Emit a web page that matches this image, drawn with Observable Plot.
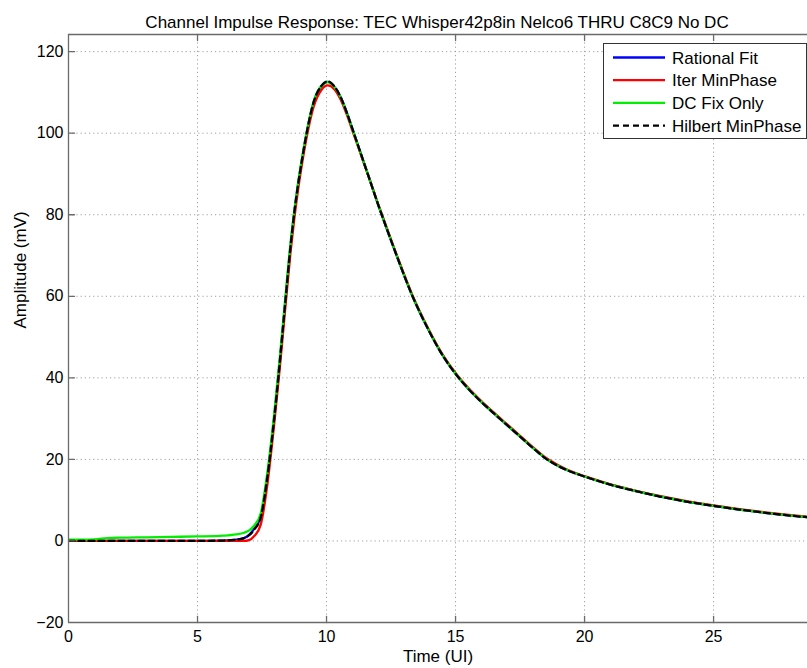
<!DOCTYPE html>
<html><head><meta charset="utf-8">
<script src="https://cdn.jsdelivr.net/npm/d3@7"></script>
<script src="https://cdn.jsdelivr.net/npm/@observablehq/plot@0.6"></script>
<style>
body{margin:0;background:#fff;}
#wrap{position:relative;width:807px;height:668px;overflow:hidden;font-family:"Liberation Sans",Arial,sans-serif;}
#legend{position:absolute;left:603px;top:43px;}
</style></head><body><div id="wrap"><div id="legend"></div></div>
<script>
const title = "Channel Impulse Response: TEC Whisper42p8in Nelco6 THRU C8C9 No DC";
const xLabel = "Time (UI)";
const yLabel = "Amplitude (mV)";
const xTicks = [0, 5, 10, 15, 20, 25];
const yTicks = [-20, 0, 20, 40, 60, 80, 100, 120];
const seriesNames = ["Rational Fit", "Iter MinPhase", "DC Fix Only", "Hilbert MinPhase"];
const seriesColors = ["#0000ff", "#ff0000", "#00ee00", "#000000"];
const seriesDash = [null, null, null, "6,4"];

const time = [0, 1, 1.5, 2, 3, 4, 5, 6, 6.5, 6.8,
  7.0, 7.2, 7.45, 7.7, 7.96, 8.19, 8.4, 8.6, 8.75, 8.9,
  9.05, 9.2, 9.5, 9.8, 10.05, 10.3, 10.55, 10.8, 11.06, 11.35,
  11.64, 12.0, 12.35, 12.74, 13.32, 13.9, 14.55, 15.0, 15.5, 16.0,
  16.5, 17.0, 17.5, 18.0, 18.5, 19.0, 19.5, 20, 21, 22,
  23, 24, 25, 26, 27, 28, 29];
const rationalFit = [0, 0, 0, 0, 0, 0, 0, 0.1, 0.3, 0.7,
  1.5, 3.0, 6.0, 15.5, 29.5, 44, 58.5, 72, 80.5, 87.5,
  93.5, 99, 107.5, 111.5, 112.6, 111.4, 108.8, 104.8, 100, 94.6,
  89.2, 82.5, 76.3, 69.6, 60.2, 52.4, 45.0, 41.0, 37.3, 34.1,
  31.2, 28.4, 25.6, 22.8, 20.2, 18.3, 16.9, 15.8, 13.8, 12.2,
  10.8, 9.6, 8.6, 7.7, 6.9, 6.2, 5.6];
const iterMinPhase = [0, 0, 0, 0, 0, 0, 0, 0, 0, 0,
  0.2, 1.2, 4.0, 13.5, 28, 42.5, 57, 70.5, 79, 86.3,
  92.5, 98, 106.5, 110.6, 111.7, 110.8, 108.2, 104.3, 99.6, 94.4,
  89.2, 82.6, 76.5, 69.8, 60.4, 52.6, 45.2, 41.2, 37.5, 34.3,
  31.4, 28.6, 25.8, 23.0, 20.4, 18.5, 17.0, 15.9, 13.9, 12.3,
  10.9, 9.7, 8.7, 7.8, 7.0, 6.3, 5.7];
const dcFixOnly = [0.3, 0.4, 0.7, 0.8, 0.9, 1.0, 1.1, 1.3, 1.6, 2.0,
  2.6, 3.8, 6.8, 16.5, 30.5, 45, 59.5, 72.8, 81, 88,
  94, 99.3, 107.8, 111.6, 112.5, 111.4, 108.8, 104.8, 100, 94.6,
  89.2, 82.5, 76.3, 69.6, 60.2, 52.4, 45.0, 41.0, 37.3, 34.1,
  31.2, 28.4, 25.6, 22.8, 20.2, 18.3, 16.9, 15.8, 13.8, 12.2,
  10.8, 9.6, 8.6, 7.7, 6.9, 6.2, 5.6];
const hilbertMinPhase = [0, 0, 0, 0, 0, 0, 0, 0.1, 0.3, 0.7,
  1.4, 2.8, 5.8, 15.3, 29.3, 44, 58.5, 72, 80.5, 87.5,
  93.5, 99, 107.6, 111.6, 112.7, 111.5, 108.8, 104.8, 100, 94.6,
  89.2, 82.5, 76.3, 69.6, 60.2, 52.4, 45.0, 41.0, 37.3, 34.1,
  31.2, 28.4, 25.6, 22.8, 20.2, 18.3, 16.9, 15.8, 13.8, 12.2,
  10.8, 9.6, 8.6, 7.7, 6.9, 6.2, 5.6];
const seriesValues = [rationalFit, iterMinPhase, dcFixOnly, hilbertMinPhase];

const X_MAX = 28.64, Y_MIN = -20, Y_MAX = 124.2;
const AXIS = "#6a6a6a", GRID = "#a0a0a0";
const tickShape = {draw(ctx, l) { ctx.moveTo(0, 0); ctx.lineTo(0, -l); }};

const lineMarks = seriesNames.map((name, i) => {
  const rows = time.map((t, j) => ({t, v: seriesValues[i][j]}));
  return Plot.line(rows, {x: "t", y: "v", stroke: seriesColors[i], strokeWidth: 2.3,
    strokeDasharray: seriesDash[i] || undefined, curve: "monotone-x", clip: true});
});

const plot = Plot.plot({
  width: 807, height: 668,
  marginLeft: 68, marginRight: 0, marginTop: 34, marginBottom: 46,
  style: {fontFamily: "'Liberation Sans', Arial, sans-serif", fontSize: "16px", background: "#fff", color: "#000"},
  x: {domain: [0, X_MAX]},
  y: {domain: [Y_MIN, Y_MAX]},
  marks: [
    Plot.ruleX(xTicks.filter(d => d > 0), {stroke: GRID, strokeDasharray: "1.2,3", strokeWidth: 1}),
    Plot.ruleY(yTicks.filter(d => d > Y_MIN), {stroke: GRID, strokeDasharray: "1.2,3", strokeWidth: 1}),
    ...lineMarks,
    Plot.ruleX([0], {stroke: AXIS, strokeWidth: 1.3}),
    Plot.ruleY([Y_MIN, Y_MAX], {stroke: AXIS, strokeWidth: 1.3}),
    Plot.vector(xTicks.filter(d => d > 0), {x: d => d, y: Y_MIN, length: 6, rotate: 0, anchor: "start", shape: tickShape, stroke: AXIS, strokeWidth: 1.3}),
    Plot.vector(xTicks.filter(d => d > 0), {x: d => d, y: Y_MAX, length: 6, rotate: 180, anchor: "start", shape: tickShape, stroke: AXIS, strokeWidth: 1.3}),
    Plot.vector(yTicks.filter(d => d > Y_MIN), {x: 0, y: d => d, length: 6, rotate: 90, anchor: "start", shape: tickShape, stroke: AXIS, strokeWidth: 1.3}),
    Plot.axisX({ticks: xTicks, tickSize: 0, tickPadding: 8, label: null, fontSize: 16}),
    Plot.axisY({ticks: yTicks, tickSize: 0, tickPadding: 5, label: null, fontSize: 16}),
    Plot.text([xLabel], {frameAnchor: "bottom", dy: 39, fontSize: 17, fill: "#000"}),
    Plot.text([yLabel], {frameAnchor: "left", dx: -48, rotate: -90, fontSize: 17, fill: "#000"}),
    Plot.text([title], {frameAnchor: "top", dy: -19, dx: -1, fontSize: 17, fill: "#000"})
  ]
});
document.getElementById("wrap").prepend(plot);

// legend
const lg = d3.select("#legend").append("svg").attr("width", 204).attr("height", 97)
  .style("font-family", "'Liberation Sans', Arial, sans-serif");
lg.append("rect").attr("x", 0.5).attr("y", 0.5).attr("width", 203).attr("height", 95)
  .attr("fill", "#fff").attr("stroke", "#333").attr("stroke-width", 1);
seriesNames.forEach((name, i) => {
  const y = 14.5 + i * 22.7;
  lg.append("line").attr("x1", 10).attr("x2", 62).attr("y1", y).attr("y2", y)
    .attr("stroke", seriesColors[i]).attr("stroke-width", 2.3)
    .attr("stroke-dasharray", seriesDash[i]);
  lg.append("text").attr("x", 69).attr("y", y).attr("dy", "0.36em")
    .attr("font-size", 17).attr("fill", "#000").text(name);
});
</script>
</body></html>
